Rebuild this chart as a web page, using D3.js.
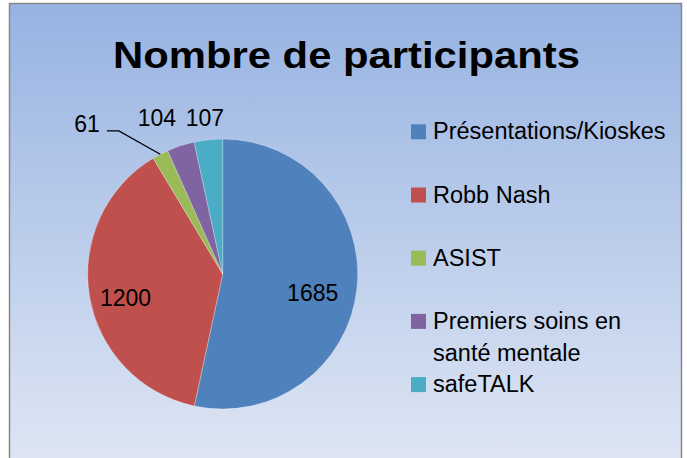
<!DOCTYPE html>
<html>
<head>
<meta charset="utf-8">
<script src="https://cdn.jsdelivr.net/npm/d3@7"></script>
<style>
  body { margin: 0; background: #fff; }
  svg { display: block; }
  text { font-family: "Liberation Sans", Arial, sans-serif; fill: #000; }
</style>
</head>
<body>
<svg id="chart" width="687" height="458"></svg>
<script>
var title = "Nombre de participants";
var categories = ["Présentations/Kioskes", "Robb Nash", "ASIST", "Premiers soins en santé mentale", "safeTALK"];
var legendLines = [["Présentations/Kioskes"], ["Robb Nash"], ["ASIST"], ["Premiers soins en", "santé mentale"], ["safeTALK"]];
var values = [1685, 1200, 61, 104, 107];
var colors = ["#4f81bd", "#c0504d", "#9bbb59", "#8064a2", "#4bacc6"];

var svg = d3.select("#chart");

// background frame with vertical gradient
var defs = svg.append("defs");
var grad = defs.append("linearGradient")
  .attr("id", "bg")
  .attr("x1", 0).attr("y1", 0).attr("x2", 0).attr("y2", 1);
grad.append("stop").attr("offset", "0%").attr("stop-color", "#97b3e2");
grad.append("stop").attr("offset", "100%").attr("stop-color", "#e0e7f4");

svg.append("rect")
  .attr("x", 9.5).attr("y", 3.5)
  .attr("width", 672).attr("height", 470)
  .attr("fill", "url(#bg)")
  .attr("stroke", "#878787")
  .attr("stroke-width", 1.5);

// stretch text so it takes the width the original font gave it
function fit(k) {
  return function(sel) {
    sel.each(function() {
      var len = this.getComputedTextLength();
      d3.select(this).attr("textLength", len * k).attr("lengthAdjust", "spacingAndGlyphs");
    });
  };
}

// title
svg.append("text")
  .attr("x", 346.5).attr("y", 68)
  .attr("text-anchor", "middle")
  .style("font-size", "37px")
  .style("font-weight", "bold")
  .text(title)
  .call(fit(1.13));

// pie
var cx = 222.7, cy = 274, r = 135;
var total = d3.sum(values);
var pie = d3.pie().sort(null).value(function(d) { return d; });
var arcs = pie(values);
var arc = d3.arc().innerRadius(0).outerRadius(r);

var g = svg.append("g").attr("transform", "translate(" + cx + "," + cy + ")");

g.selectAll("path.slice")
  .data(arcs)
  .enter().append("path")
  .attr("class", "slice")
  .attr("d", arc)
  .attr("fill", function(d, i) { return colors[i]; })
  .attr("stroke", "rgba(255,255,255,0.35)")
  .attr("stroke-width", 0.8);

// labels: big slices inside, small slices outside above the pie
var inner = arcs.filter(function(d) { return d.value / total > 0.05; });
var outer = arcs.filter(function(d) { return d.value / total <= 0.05; });
var labelArc = d3.arc().innerRadius(r * 0.7).outerRadius(r * 0.7);

g.selectAll("text.inner")
  .data(inner)
  .enter().append("text")
  .attr("class", "inner")
  .attr("transform", function(d) {
    var c = labelArc.centroid(d);
    // labels sit a little below the centroid, like the original
    return "translate(" + (c[0] - 4) + "," + (c[1] + 17) + ")";
  })
  .attr("text-anchor", "middle")
  .style("font-size", "23px")
  .text(function(d) { return d.value; });

// place outside labels, then push them left so they don't overlap
var lw = 38, lh = 16, gap = 10, pad = 14;
var placed = outer.map(function(d) {
  var a = (d.startAngle + d.endAngle) / 2;
  var s = Math.sin(a), c = Math.cos(a);
  var px = s * (r + pad), py = -c * (r + pad);
  return { d: d, a: a, x: px + s * lw / 2, y: py - c * lh / 2, lead: false };
});
placed.sort(function(p, q) { return q.x - p.x; });
for (var i = 1; i < placed.length; i++) {
  var prev = placed[i - 1], cur = placed[i];
  var maxX = prev.x - lw - gap;
  if (cur.x > maxX) {
    cur.x = maxX;
    cur.y = prev.y;
    // pushed twice: far from its slice, so it gets a leader line
    if (i > 1) {
      cur.lead = true;
      cur.x -= 28;
      cur.y += 6;
    }
  }
}

placed.forEach(function(p) {
  var right = p.x + lw / 2;
  g.append("text")
    .attr("x", p.lead ? right : p.x)
    .attr("y", p.y + 8)
    .attr("text-anchor", p.lead ? "end" : "middle")
    .style("font-size", "23px")
    .text(p.d.value);
  if (p.lead) {
    var x0 = right + 7;
    var y0 = p.y + 7;
    var edge = [Math.sin(p.a) * r, -Math.cos(p.a) * r];
    g.append("path")
      .attr("d", d3.line()([[x0, y0], [x0 + 12, y0], edge]))
      .attr("fill", "none")
      .attr("stroke", "#000")
      .attr("stroke-width", 1.3);
  }
});

// legend
var lx = 411, ly0 = 139.3, step = 63.2, wrap = 31.7;
var legend = svg.append("g");
legendLines.forEach(function(lines, i) {
  var yb = ly0 + i * step;
  legend.append("rect")
    .attr("x", lx).attr("y", yb - 15)
    .attr("width", 15).attr("height", 15)
    .attr("fill", colors[i]);
  lines.forEach(function(t, j) {
    legend.append("text")
      .attr("x", lx + 22).attr("y", yb + j * wrap)
      .style("font-size", "23.5px")
      .text(t);
  });
});
</script>
</body>
</html>
